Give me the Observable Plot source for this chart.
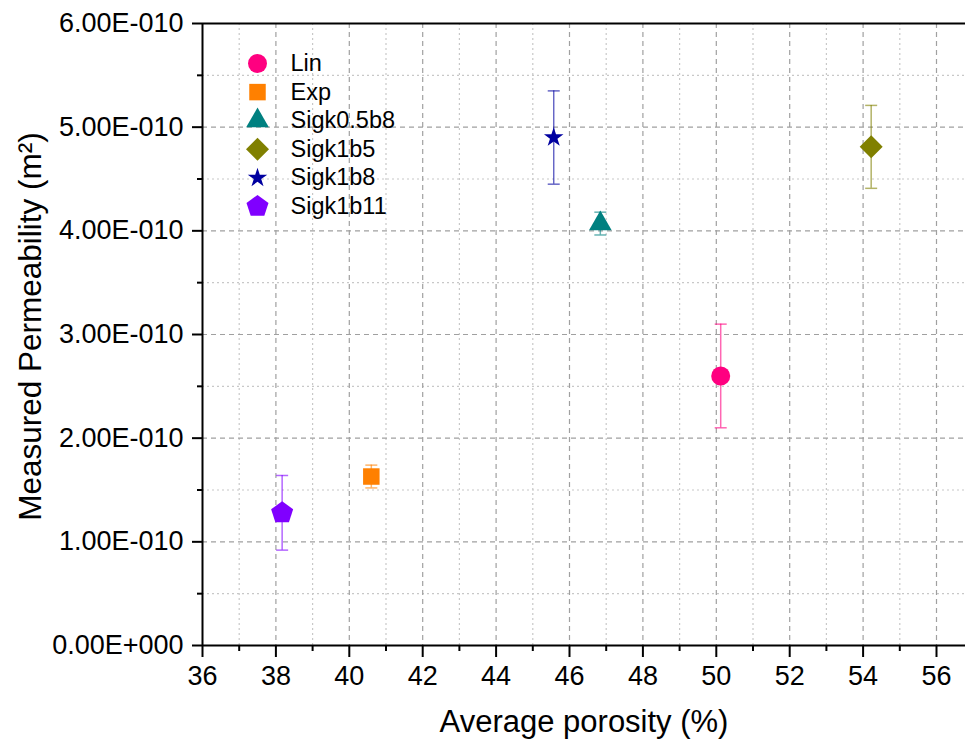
<!DOCTYPE html>
<html><head><meta charset="utf-8">
<script src="https://cdn.jsdelivr.net/npm/d3@7"></script>
<script src="https://cdn.jsdelivr.net/npm/@observablehq/plot@0.6"></script>
<style>body{margin:0;background:#fff;} #chart{width:965px;height:742px;}</style>
</head><body><div id="chart"></div>
<script>
const names = ["Lin","Exp","Sigk0.5b8","Sigk1b5","Sigk1b8","Sigk1b11"];
const porosity = [50.12, 40.6, 46.84, 54.22, 45.57, 38.17];
const permeability = [2.60e-10, 1.63e-10, 4.07e-10, 4.81e-10, 4.90e-10, 1.28e-10];
const errors = [0.50e-10, 0.11e-10, 0.11e-10, 0.40e-10, 0.45e-10, 0.36e-10];
const colors = ["#FF0080","#FF8000","#008080","#808000","#0000A0","#8000FF"];
const xMajor = [36,38,40,42,44,46,48,50,52,54,56];
const xMinor = [37,39,41,43,45,47,49,51,53,55];
const yMajor = [0, 1e-10, 2e-10, 3e-10, 4e-10, 5e-10, 6e-10];
const yMinor = [0.5e-10, 1.5e-10, 2.5e-10, 3.5e-10, 4.5e-10, 5.5e-10];
const xLabel = "Average porosity (%)";
const yLabel = "Measured Permeability (m²)";

const data = names.map((name, i) => ({name, x: porosity[i], y: permeability[i], e: errors[i]}));

const fixed = (sym, area) => ({draw(ctx) { sym.draw(ctx, area); }});
const pentagon = {draw(ctx, size) {
  const R = Math.sqrt(size / 2.3776);
  for (let i = 0; i < 5; i++) {
    const a = -Math.PI / 2 + i * 2 * Math.PI / 5;
    const px = R * Math.cos(a), py = R * Math.sin(a);
    if (i) ctx.lineTo(px, py); else ctx.moveTo(px, py);
  }
  ctx.closePath();
}};
const symbols = [
  fixed(d3.symbolCircle, 283),
  fixed(d3.symbolSquare, 272),
  fixed(d3.symbolTriangle, 223),
  fixed(d3.symbolDiamond2, 337),
  fixed(d3.symbolStar, 118),
  fixed(pentagon, 319)
];
const cap = {draw(ctx) { ctx.moveTo(-6, 0); ctx.lineTo(6, 0); }};

const fmt = d => {
  const m = Math.round(d / 1e-10 * 100) / 100;
  return m === 0 ? "0.00E+000" : m.toFixed(2) + "E-010";
};

const legendMarks = names.flatMap((name, i) => [
  Plot.dot([name], {frameAnchor: "top-left", dx: 55, dy: 40 + 28.6 * i, fill: d => d, symbol: d => d, r: 9}),
  Plot.text([name], {frameAnchor: "top-left", dx: 88, dy: 40 + 28.6 * i, text: d => d, textAnchor: "start", lineAnchor: "middle", fontSize: 23.5, fill: "black"})
]);

const chart = Plot.plot({
  width: 965,
  height: 742,
  marginLeft: 202,
  marginRight: 0,
  marginTop: 23,
  marginBottom: 97,
  style: {fontFamily: "'Liberation Sans', Arial, sans-serif", color: "black", background: "white"},
  x: {domain: [36, 36 + (965 - 202) / 36.7]},
  y: {domain: [0, 6e-10]},
  color: {domain: names, range: colors},
  symbol: {domain: names, range: symbols},
  marks: [
    Plot.ruleX(xMinor, {stroke: "#c8c8c8", strokeWidth: 1.2, strokeDasharray: "2,3"}),
    Plot.ruleY(yMinor, {stroke: "#c8c8c8", strokeWidth: 1.2, strokeDasharray: "2,3"}),
    Plot.ruleX(xMajor.slice(1), {stroke: "#a0a0a0", strokeWidth: 1.2, strokeDasharray: "5,4"}),
    Plot.ruleY(yMajor.slice(1, -1), {stroke: "#a0a0a0", strokeWidth: 1.2, strokeDasharray: "5,4"}),
    Plot.axisX({ticks: xMinor, tickSize: 6, tickFormat: () => "", strokeWidth: 2, label: null}),
    Plot.axisX({ticks: xMajor, tickSize: 12, tickPadding: 8, fontSize: 27, strokeWidth: 2, label: null, tickFormat: d => String(d)}),
    Plot.axisY({ticks: yMinor, tickSize: 5, tickFormat: () => "", strokeWidth: 2, label: null}),
    Plot.axisY({ticks: yMajor, tickSize: 10, tickPadding: 9, fontSize: 27, strokeWidth: 2, label: null, tickFormat: fmt}),
    Plot.ruleX([36], {stroke: "black", strokeWidth: 2}),
    Plot.ruleY([0], {stroke: "black", strokeWidth: 2}),
    Plot.ruleY([6e-10], {stroke: "black", strokeWidth: 2}),
    Plot.ruleX(data, {x: "x", y1: d => d.y - d.e, y2: d => d.y + d.e, stroke: "name", strokeOpacity: 0.6, strokeWidth: 1.5}),
    Plot.dot(data, {x: "x", y: d => d.y + d.e, symbol: cap, fill: "none", stroke: "name", strokeOpacity: 0.6, strokeWidth: 1.5}),
    Plot.dot(data, {x: "x", y: d => d.y - d.e, symbol: cap, fill: "none", stroke: "name", strokeOpacity: 0.6, strokeWidth: 1.5}),
    Plot.dot(data, {x: "x", y: "y", fill: "name", symbol: "name", r: 9}),
    ...legendMarks,
    Plot.text([xLabel], {frameAnchor: "bottom", dy: 77, text: d => d, lineAnchor: "middle", textAnchor: "middle", fontSize: 31, fill: "black"}),
    Plot.text([yLabel], {frameAnchor: "left", dx: -172, dy: -8, rotate: -90, text: d => d, textAnchor: "middle", lineAnchor: "middle", fontSize: 31.5, fill: "black"})
  ]
});
document.getElementById("chart").appendChild(chart);
</script>
</body></html>
